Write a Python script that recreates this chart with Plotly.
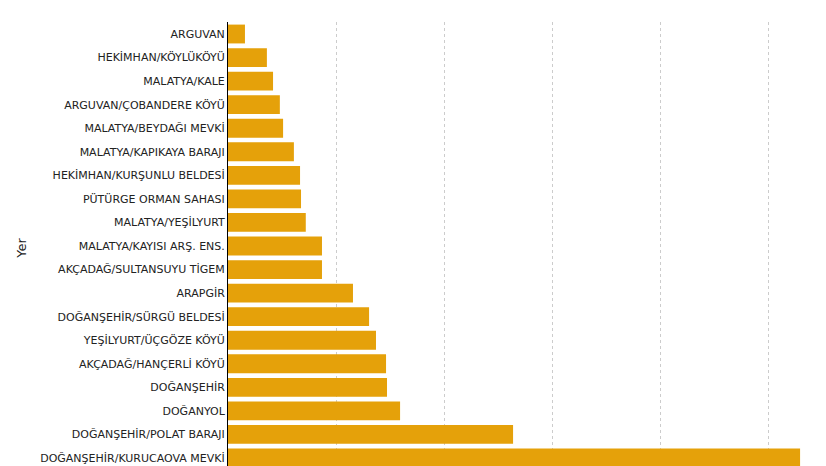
import plotly.graph_objects as go

places = ["ARGUVAN","HEKİMHAN/KÖYLÜKÖYÜ","MALATYA/KALE","ARGUVAN/ÇOBANDERE KÖYÜ","MALATYA/BEYDAĞI MEVKİ",
          "MALATYA/KAPIKAYA BARAJI","HEKİMHAN/KURŞUNLU BELDESİ","PÜTÜRGE ORMAN SAHASI","MALATYA/YEŞİLYURT",
          "MALATYA/KAYISI ARŞ. ENS.","AKÇADAĞ/SULTANSUYU TİGEM","ARAPGİR","DOĞANŞEHİR/SÜRGÜ BELDESİ",
          "YEŞİLYURT/ÜÇGÖZE KÖYÜ","AKÇADAĞ/HANÇERLİ KÖYÜ","DOĞANŞEHİR","DOĞANYOL","DOĞANŞEHİR/POLAT BARAJI",
          "DOĞANŞEHİR/KURUCAOVA MEVKİ"]
values = [15.7,36,41.7,48,51,61,66.7,67.6,72,87,87,115.7,130.6,137,146.3,147.2,159.3,263.9,529.6]

idx = list(range(len(places)))
fig = go.Figure(go.Bar(x=values, y=idx, orientation="h", marker_color="#E5A10A",
                       marker_line_width=0, width=0.8))
fig.update_layout(width=826, height=466, margin=dict(l=220, r=0, t=14, b=0),
                  plot_bgcolor="white", paper_bgcolor="white", showlegend=False,
                  font=dict(family="DejaVu Sans", size=11, color="#222"))
fig.update_xaxes(range=[0, 561], dtick=100, showticklabels=False, showgrid=True,
                 gridcolor="#cccccc", griddash="dot", zeroline=False, automargin=False)
fig.update_yaxes(tickvals=idx, ticktext=places, range=[18.68, -0.51], showgrid=False,
                 showline=True, linecolor="black", linewidth=1, ticks="", automargin=False,
                 title=dict(text="Yer", standoff=10), zeroline=False)
fig.write_html("out.html")
